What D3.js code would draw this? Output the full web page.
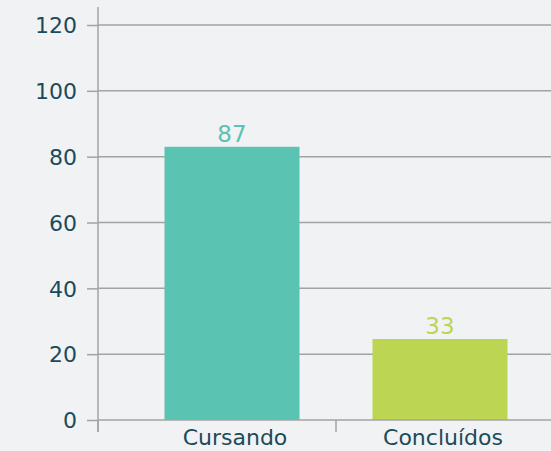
<!DOCTYPE html>
<html><head><meta charset="utf-8">
<script src="https://cdn.jsdelivr.net/npm/d3@7"></script>
<style>
html,body{margin:0;padding:0;background:#f1f2f4;}
svg{display:block;}
text{font-family:"DejaVu Sans",sans-serif;}
</style></head>
<body>
<svg id="c" width="551" height="451"></svg>
<script>
const categories = ["Cursando", "Concluídos"];
const barValues = [83, 24.6];
const valueLabels = ["87", "33"];
const barColors = ["#5ac3b2", "#bcd553"];
const yTicks = [0, 20, 40, 60, 80, 100, 120];

const svg = d3.select("#c");
const W = 551, H = 451;
svg.append("rect").attr("width", W).attr("height", H).attr("fill", "#f1f2f4");

const y = d3.scaleLinear().domain([0, 120]).range([420, 25]);
const x = d3.scaleBand().domain(categories).range([128, 544])
  .paddingInner(0.351).paddingOuter(0.1755);
const axisX0 = 98;

// gridlines
svg.append("g").selectAll("line").data(yTicks.filter(d => d > 0)).join("line")
  .attr("x1", axisX0).attr("x2", W).attr("y1", d => y(d)).attr("y2", d => y(d))
  .attr("stroke", "#a3a3a5").attr("stroke-width", 1.5);

// y axis
const yAxis = d3.axisLeft(y).tickValues(yTicks).tickSize(11).tickPadding(10);
const gy = svg.append("g").attr("transform", `translate(${axisX0},0)`).call(yAxis);
gy.select(".domain").remove();
gy.selectAll(".tick line").attr("stroke", "#a3a3a5").attr("stroke-width", 1.5);
gy.selectAll(".tick text").attr("fill", "#1b4b5a").attr("font-size", 22)
  .attr("font-family", "DejaVu Sans").attr("dy", "0.35em");
svg.append("line").attr("x1", axisX0).attr("x2", axisX0).attr("y1", 7).attr("y2", 432)
  .attr("stroke", "#a3a3a5").attr("stroke-width", 1.5);

// bars
svg.append("g").selectAll("rect").data(categories).join("rect")
  .attr("x", d => x(d)).attr("width", x.bandwidth())
  .attr("y", (d, i) => y(barValues[i])).attr("height", (d, i) => y(0) - y(barValues[i]))
  .attr("fill", (d, i) => barColors[i]);

// x axis baseline
svg.append("line").attr("x1", axisX0).attr("x2", W).attr("y1", y(0)).attr("y2", y(0))
  .attr("stroke", "#a3a3a5").attr("stroke-width", 1.5);
// category boundary ticks
const bounds = [axisX0, (x(categories[0]) + x.bandwidth() + x(categories[1])) / 2];
svg.append("g").selectAll("line").data(bounds).join("line")
  .attr("x1", d => d).attr("x2", d => d).attr("y1", y(0)).attr("y2", 432)
  .attr("stroke", "#a3a3a5").attr("stroke-width", 1.5);

// category labels
svg.append("g").selectAll("text").data(categories).join("text")
  .attr("x", d => x(d) + x.bandwidth() / 2 + 3).attr("y", 445)
  .attr("text-anchor", "middle").attr("fill", "#1b4b5a").attr("font-size", 22)
  .text(d => d);

// value labels
svg.append("g").selectAll("text").data(categories).join("text")
  .attr("x", d => x(d) + x.bandwidth() / 2).attr("y", (d, i) => y(barValues[i]) - 5)
  .attr("text-anchor", "middle").attr("fill", (d, i) => barColors[i]).attr("font-size", 23)
  .text((d, i) => valueLabels[i]);
</script>
</body></html>
